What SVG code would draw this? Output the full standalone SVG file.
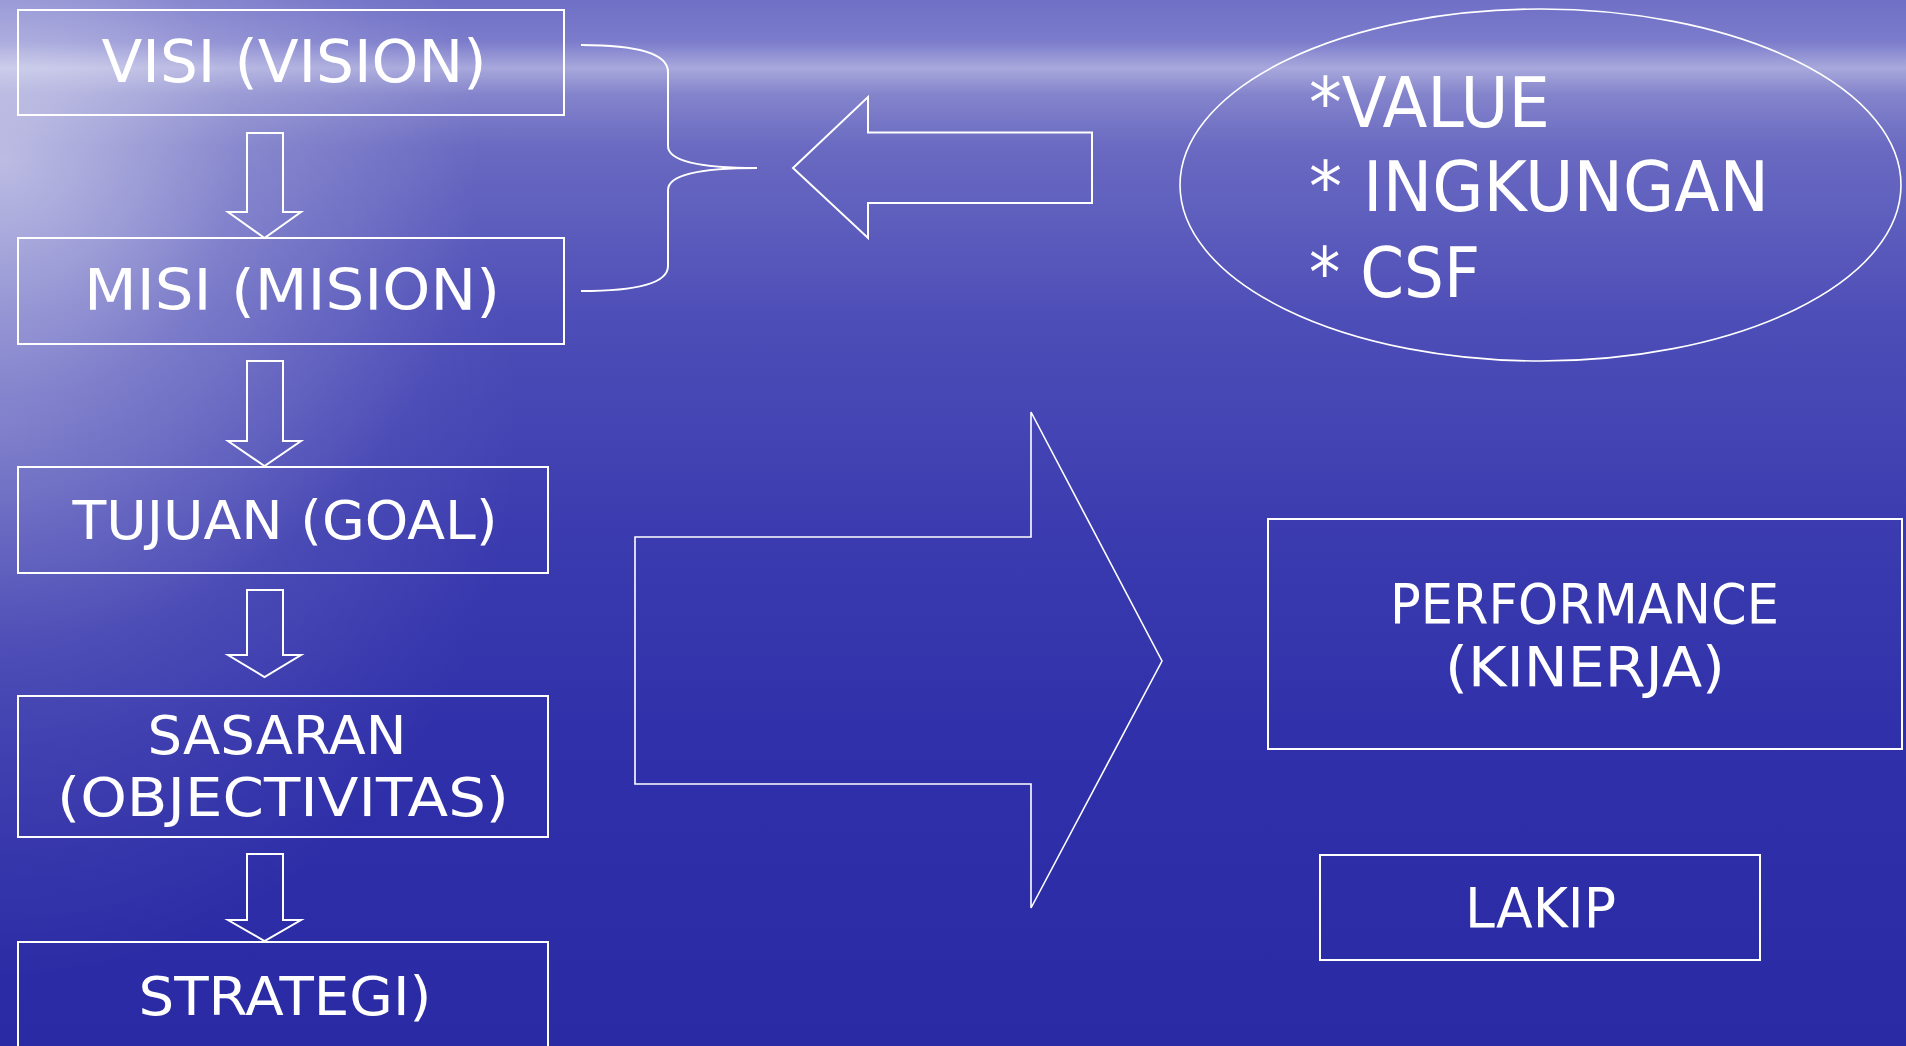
<svg xmlns="http://www.w3.org/2000/svg" width="1906" height="1046" viewBox="0 0 1906 1046">
<defs>
<linearGradient id="bg" x1="0" y1="0" x2="0" y2="1">
<stop offset="0" stop-color="#6f6fc6"/>
<stop offset="0.04" stop-color="#7c7ccc"/>
<stop offset="0.065" stop-color="#a8a8dc"/>
<stop offset="0.09" stop-color="#8484cc"/>
<stop offset="0.14" stop-color="#6a6ac2"/>
<stop offset="0.3" stop-color="#4e4eb8"/>
<stop offset="0.5" stop-color="#3c3cb0"/>
<stop offset="0.7" stop-color="#3030aa"/>
<stop offset="1" stop-color="#2a2aa4"/>
</linearGradient>
<radialGradient id="glow" cx="0" cy="160" r="480" gradientUnits="userSpaceOnUse">
<stop offset="0" stop-color="#ffffff" stop-opacity="0.5"/>
<stop offset="0.5" stop-color="#ffffff" stop-opacity="0.15"/>
<stop offset="1" stop-color="#ffffff" stop-opacity="0"/>
</radialGradient>
<radialGradient id="leftlight" cx="0" cy="0" r="1" gradientUnits="userSpaceOnUse" gradientTransform="translate(0,420) scale(520,560)">
<stop offset="0" stop-color="#ffffff" stop-opacity="0.22"/>
<stop offset="0.6" stop-color="#ffffff" stop-opacity="0.08"/>
<stop offset="1" stop-color="#ffffff" stop-opacity="0"/>
</radialGradient>
<style>
.box{fill:none;stroke:#ffffff;stroke-width:2}
.thin{fill:none;stroke:#ffffff;stroke-width:1.6}
.t{fill:#ffffff;font-family:"DejaVu Sans","Liberation Sans",sans-serif;text-anchor:middle}
.tl{fill:#ffffff;font-family:"DejaVu Sans","Liberation Sans",sans-serif;font-size:70px}
</style>
</defs>
<rect width="1906" height="1046" fill="url(#bg)"/>
<rect width="1906" height="1046" fill="url(#leftlight)"/>
<rect width="1906" height="1046" fill="url(#glow)"/>

<g id="node-visi">
<rect class="box" x="18" y="10" width="546" height="105"/>
<text class="t" x="294" y="82" font-size="58" textLength="385" lengthAdjust="spacingAndGlyphs">VISI (VISION)</text>
</g>
<g id="node-misi">
<rect class="box" x="18" y="238" width="546" height="106"/>
<text class="t" x="292" y="310" font-size="57" textLength="416" lengthAdjust="spacingAndGlyphs">MISI (MISION)</text>
</g>
<g id="node-tujuan">
<rect class="box" x="18" y="467" width="530" height="106"/>
<text class="t" x="285" y="539" font-size="54" textLength="425" lengthAdjust="spacingAndGlyphs">TUJUAN (GOAL)</text>
</g>
<g id="node-sasaran">
<rect class="box" x="18" y="696" width="530" height="141"/>
<text class="t" x="277" y="754" font-size="54" textLength="259" lengthAdjust="spacingAndGlyphs">SASARAN</text>
<text class="t" x="283" y="816" font-size="54" textLength="452" lengthAdjust="spacingAndGlyphs">(OBJECTIVITAS)</text>
</g>
<g id="node-strategi">
<rect class="box" x="18" y="942" width="530" height="130"/>
<text class="t" x="285" y="1015" font-size="54" textLength="293" lengthAdjust="spacingAndGlyphs">STRATEGI)</text>
</g>
<g id="node-values">
<ellipse class="thin" cx="1540.5" cy="185" rx="360.5" ry="176"/>
<text class="tl" x="1309" y="127" textLength="241" lengthAdjust="spacingAndGlyphs">*VALUE</text>
<text class="tl" x="1309" y="211" textLength="460" lengthAdjust="spacingAndGlyphs">* INGKUNGAN</text>
<text class="tl" x="1309" y="297" textLength="171" lengthAdjust="spacingAndGlyphs">* CSF</text>
</g>
<g id="node-performance">
<rect class="box" x="1268" y="519" width="634" height="230"/>
<text class="t" x="1584.5" y="623" font-size="56" textLength="389" lengthAdjust="spacingAndGlyphs">PERFORMANCE</text>
<text class="t" x="1585" y="686" font-size="56" textLength="280" lengthAdjust="spacingAndGlyphs">(KINERJA)</text>
</g>
<g id="node-lakip">
<rect class="box" x="1320" y="855" width="440" height="105"/>
<text class="t" x="1540.5" y="927" font-size="56" textLength="151" lengthAdjust="spacingAndGlyphs">LAKIP</text>
</g>

<g id="connectors">
<polygon class="box" points="247,133 283,133 283,212 301,212 264.5,238 228,212 247,212"/>
<polygon class="box" points="247,361 283,361 283,441 301,441 264.5,466 228,441 247,441"/>
<polygon class="box" points="247,590 283,590 283,655 301,655 264.5,677 228,655 247,655"/>
<polygon class="box" points="247,854 283,854 283,920 301,920 264.5,941 228,920 247,920"/>
<path class="box" d="M581,45 Q668,45 668,72 L668,146 Q668,168 757,168 Q668,168 668,190 L668,266 Q668,291 581,291"/>
<polygon class="box" points="793,168 868,97 868,132.5 1092,132.5 1092,203 868,203 868,238"/>
<polygon class="thin" points="635,537 1031,537 1031,412 1162,661 1031,908 1031,784 635,784"/>
</g>
</svg>
